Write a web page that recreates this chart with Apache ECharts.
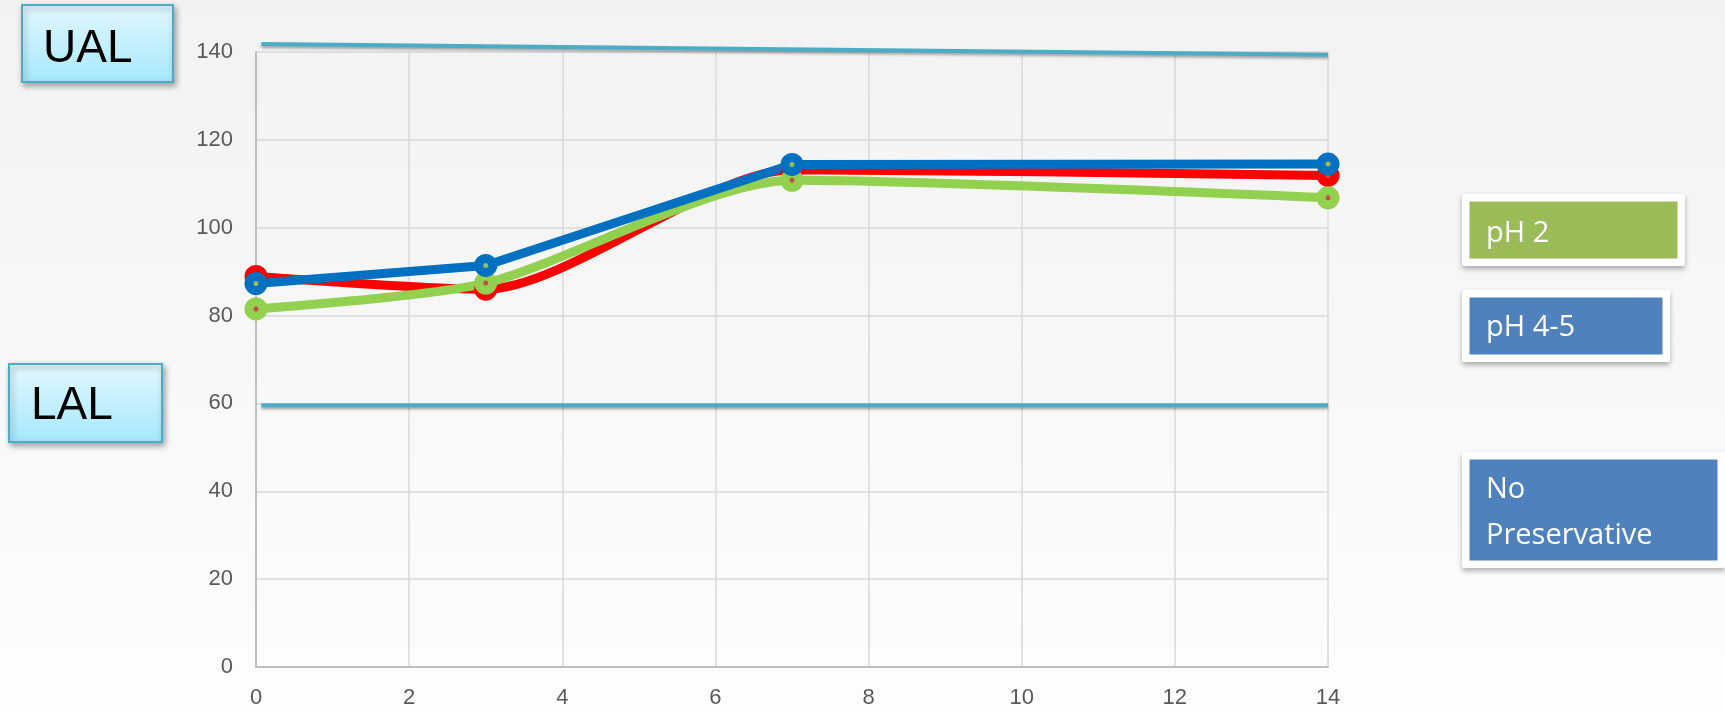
<!DOCTYPE html>
<html>
<head>
<meta charset="utf-8">
<script src="https://cdn.jsdelivr.net/npm/echarts@6/dist/echarts.min.js"></script>
<style>
  html, body { margin: 0; padding: 0; }
  #chart { width: 1725px; height: 712px; }
</style>
</head>
<body>
<div id="chart"></div>
<script>
// Time points (x) and recoveries for each storage condition
const days = [0, 3, 7, 14];
const noPreservative = [88.9, 86.0, 113.2, 111.9];
const ph2 = [81.5, 87.4, 110.8, 106.8];
const ph45 = [87.3, 91.4, 114.4, 114.5];

// Acceptance limits (upper drawn slightly sloped, lower flat)
const ualLine = [[0.07, 141.8], [14, 139.4]];
const lalLine = [[0.07, 59.6], [14, 59.6]];

// Axis ticks
const xTicks = [0, 2, 4, 6, 8, 10, 12, 14];
const yTicks = [0, 20, 40, 60, 80, 100, 120, 140];

const chart = echarts.init(document.getElementById('chart'), null, { renderer: 'canvas' });

function pts(vals) { return days.map((d, i) => [d, vals[i]]); }

function dataSeries(name, vals, color, dot, smooth) {
  return {
    name: name,
    type: 'line',
    data: pts(vals),
    smooth: smooth,
    symbol: 'circle',
    symbolSize: 14,
    lineStyle: { color: color, width: 9 },
    itemStyle: { color: dot, borderColor: color, borderWidth: 9 },
    emphasis: { disabled: true },
    z: 5
  };
}

function limitSeries(data) {
  return {
    type: 'line',
    data: data,
    symbol: 'none',
    clip: false,
    lineStyle: {
      color: '#4bacc6', width: 4,
      shadowColor: 'rgba(0,0,0,0.35)', shadowBlur: 3, shadowOffsetY: 2
    },
    emphasis: { disabled: true },
    z: 4
  };
}

function labelBox(x, y, w, h, text, tx, ty) {
  return [
    {
      type: 'rect',
      shape: { x: x, y: y, width: w, height: h },
      style: {
        fill: new echarts.graphic.LinearGradient(0, 0, 0, 1, [
          { offset: 0, color: '#e3f8fe' },
          { offset: 1, color: '#a5e8fc' }
        ]),
        stroke: '#4bacc6', lineWidth: 2,
        shadowColor: 'rgba(0,0,0,0.35)', shadowBlur: 6, shadowOffsetX: 2, shadowOffsetY: 3
      },
      z: 10
    },
    {
      type: 'text',
      x: tx, y: ty,
      style: {
        text: text, fill: '#000000',
        font: '46px "Liberation Sans Narrow", "Liberation Sans", sans-serif',
        verticalAlign: 'middle'
      },
      z: 11
    }
  ];
}

function legendBox(ox, oy, ow, oh, inset, fill, lines, tx, ty, lh) {
  const els = [
    {
      type: 'rect',
      shape: { x: ox, y: oy, width: ow, height: oh, r: 2 },
      style: {
        fill: '#ffffff',
        shadowColor: 'rgba(0,0,0,0.3)', shadowBlur: 5, shadowOffsetY: 3
      },
      z: 10
    },
    {
      type: 'rect',
      shape: { x: ox + inset, y: oy + inset, width: ow - 2 * inset, height: oh - 2 * inset },
      style: { fill: fill },
      z: 11
    }
  ];
  lines.forEach((t, i) => {
    els.push({
      type: 'text',
      x: tx, y: ty + i * lh,
      style: {
        text: t, fill: '#ffffff',
        font: '29px "Open Sans", sans-serif',
        verticalAlign: 'middle'
      },
      z: 12
    });
  });
  return els;
}

const option = {
  animation: false,
  backgroundColor: new echarts.graphic.LinearGradient(0, 0, 0, 1, [
    { offset: 0, color: '#f2f2f2' },
    { offset: 1, color: '#fdfdfd' }
  ]),
  grid: { left: 256, right: 397, top: 52, bottom: 45, containLabel: false },
  xAxis: {
    type: 'value', min: xTicks[0], max: xTicks[xTicks.length - 1], interval: 2,
    axisLine: { show: true, onZero: false, lineStyle: { color: '#bfbfbf', width: 2 } },
    axisTick: { show: false },
    axisLabel: {
      color: '#595959', fontSize: 22, fontFamily: '"Liberation Sans", sans-serif', margin: 20,
      showMinLabel: true, showMaxLabel: true
    },
    splitLine: { show: true, lineStyle: { color: '#d9d9d9', width: 1.5 } }
  },
  yAxis: {
    type: 'value', min: yTicks[0], max: yTicks[yTicks.length - 1], interval: 20,
    axisLine: { show: true, lineStyle: { color: '#bfbfbf', width: 2 } },
    axisTick: { show: false },
    axisLabel: {
      color: '#595959', fontSize: 22, fontFamily: '"Liberation Sans", sans-serif', margin: 23
    },
    splitLine: { show: true, lineStyle: { color: '#d9d9d9', width: 1.5 } }
  },
  series: [
    limitSeries(ualLine),
    limitSeries(lalLine),
    dataSeries('No Preservative', noPreservative, '#ff0000', '#c0504d', 0.25),
    dataSeries('pH 2', ph2, '#92d050', '#c0504d', 0.25),
    dataSeries('pH 4-5', ph45, '#0070c0', '#9bbb59', false)
  ],
  graphic: [].concat(
    labelBox(22, 5, 151, 77, 'UAL', 43, 49),
    labelBox(9, 364, 153, 78, 'LAL', 31, 406),
    legendBox(1462, 194, 223, 72, 7.5, '#9bbb59', ['pH 2'], 1486, 234, 0),
    legendBox(1462, 290, 208, 72, 7.5, '#4f81bd', ['pH 4-5'], 1486, 328, 0),
    legendBox(1462, 452, 263, 116, 7.5, '#4f81bd', ['No', 'Preservative'], 1486, 490, 46)
  )
};

chart.setOption(option);
</script>
</body>
</html>
